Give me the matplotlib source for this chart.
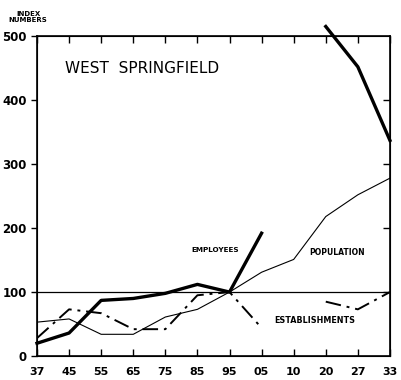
import numpy as np
import matplotlib.pyplot as plt

years = ["37", "45", "55", "65", "75", "85", "95", "05", "10", "20", "27", "33"]
employees = [20, 36, 87, 90, 98, 112, 100, 192, np.nan, 515, 452, 337]
population = [53, 58, 34, 34, 61, 73, 100, 131, 151, 218, 252, 278]
establishments = [28, 73, 67, 42, 42, 95, 100, 44, np.nan, 85, 73, 100]

x = np.arange(len(years))

fig = plt.figure(figsize=(4.02, 3.8), dpi=100)
ax = fig.add_axes([0.092, 0.063, 0.878, 0.842])

ax.plot(x, population, color="black", lw=0.8)
ax.plot(x, establishments, color="black", lw=1.4, dashes=[8, 3, 1.5, 3])
ax.plot(x, employees, color="black", lw=2.4, clip_on=False)
ax.axhline(100, color="black", lw=0.9)

ax.set_xlim(0, len(years) - 1)
ax.set_ylim(0, 500)
ax.set_xticks(x)
ax.set_xticklabels(years)
ax.set_yticks(range(0, 501, 100))
for s in ax.spines.values():
    s.set_linewidth(1.2)

ax.tick_params(axis="x", direction="in", top=True, length=5, pad=8,
               labelsize=8, width=1)
ax.tick_params(axis="y", direction="out", length=4, labelsize=8.5, width=1)
for t in ax.get_xticklabels() + ax.get_yticklabels():
    t.set_fontweight("bold")

# inward ticks on the right edge
ax2 = ax.twinx()
ax2.set_ylim(0, 500)
ax2.set_yticks(range(100, 500, 100))
ax2.tick_params(axis="y", direction="in", length=5, width=1, labelright=False)

fig.text(0.07, 0.955, "INDEX\nNUMBERS", fontsize=5, fontweight="bold",
         ha="center", va="center", linespacing=1.1)
ax.text(0.08, 0.9, "WEST  SPRINGFIELD", transform=ax.transAxes,
        fontsize=11, color="black", va="center")
ax.text(4.8, 165, "EMPLOYEES", fontsize=5.2, fontweight="bold", va="center")
ax.text(8.5, 162, "POPULATION", fontsize=5.5, fontweight="bold", va="center")
ax.text(7.4, 55, "ESTABLISHMENTS", fontsize=5.8, fontweight="bold", va="center")

fig.savefig("out.png", dpi=100)
